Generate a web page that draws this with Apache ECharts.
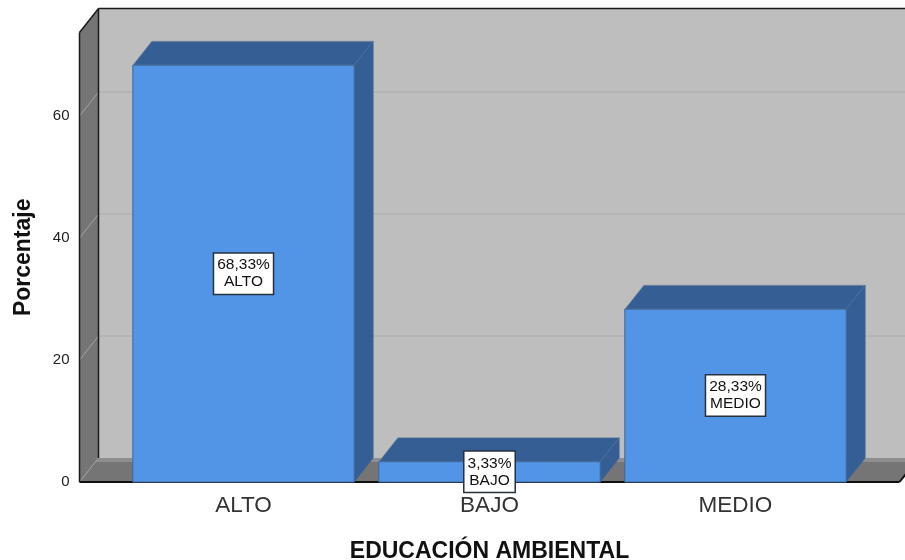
<!DOCTYPE html>
<html><head><meta charset="utf-8">
<style>html,body{margin:0;padding:0;background:#fff}#c{width:905px;height:560px}</style>
<script src="https://cdn.jsdelivr.net/npm/echarts@6/dist/echarts.min.js"></script>
</head><body><div id="c"></div>
<script>
const categories = ['ALTO', 'BAJO', 'MEDIO'];
const percentages = [68.33, 3.33, 28.33];
const percentLabels = ['68,33%', '3,33%', '28,33%'];
const gridTicks = [20, 40, 60];
const yTop = 73.7;
const depthX = 19, depthY = -24, wallOut = 41, barShare = 0.9;
const FONT = '"Liberation Sans", Arial, sans-serif';
const FRONT = '#5294E6', DARK = '#345E94', EDGE = '#3F6797', WALL = '#BEBEBE', SIDE = '#757575', GRID = '#ABABAB';

function poly(points, fill, stroke, lw) {
  return { type: 'polygon', shape: { points }, style: { fill, stroke: stroke || null, lineWidth: lw || 0 } };
}
function seg(x1, y1, x2, y2, stroke, lw) {
  return { type: 'line', shape: { x1, y1, x2, y2 }, style: { stroke, lineWidth: lw } };
}
function renderWalls(params, api) {
  const band = api.size([1, 0])[0];
  const o0 = api.coord([0, 0]), o2 = api.coord([2, 0]);
  const yBase = o0[1], yHigh = api.coord([0, yTop])[1];
  const xL = o0[0] - band / 2 - wallOut, xR = o2[0] + band / 2 + wallOut;
  const bL = xL + depthX, bR = xR + depthX, yb = yBase + depthY, yt = yHigh + depthY;
  const kids = [
    poly([[bL, yt], [bR, yt], [bR, yb], [bL, yb]], WALL),
    poly([[xL, yHigh], [bL, yt], [bL, yb], [xL, yBase]], SIDE),
    poly([[xL, yBase], [bL, yb], [bR, yb], [xR, yBase]], SIDE),
    poly([[bL, yb], [bR, yb], [bR, yb + 4], [bL - 3, yb + 4]], '#8E8E8E')
  ];
  gridTicks.forEach(t => {
    const y = api.coord([0, t])[1];
    kids.push(seg(xL, y, bL, y + depthY, '#A5A5A5', 1));
    kids.push(seg(bL, y + depthY, bR, y + depthY, GRID, 1));
  });
  kids.push(seg(xL, yBase, bL, yb, '#A0A0A0', 1));
  kids.push(seg(bL, yt, bR, yt, '#1A1A1A', 1.5));
  kids.push(seg(bL, yt, bL, yb, '#1A1A1A', 1.5));
  kids.push(seg(xL, yHigh, bL, yt, '#1A1A1A', 1.5));
  kids.push(seg(xL, yHigh, xL, yBase, '#1A1A1A', 1.5));
  kids.push(seg(xL, yBase, xR, yBase, '#111', 2));
  kids.push(seg(xR, yBase, bR, yb, '#111', 2));
  return { type: 'group', children: kids };
}
function renderBar(params, api) {
  const i = api.value(0), v = api.value(1);
  const w = api.size([1, 0])[0] * barShare;
  const c = api.coord([i, v]), b = api.coord([i, 0]), m = api.coord([i, v / 2]);
  const l = c[0] - w / 2, r = c[0] + w / 2, t = c[1], y0 = b[1];
  return { type: 'group', children: [
    poly([[l, t], [l + depthX, t + depthY], [r + depthX, t + depthY], [r, t]], DARK, '#7F8FA3', 0.6),
    poly([[r, t], [r + depthX, t + depthY], [r + depthX, y0 + depthY], [r, y0]], DARK, EDGE, 0.6),
    poly([[l, t], [r, t], [r, y0], [l, y0]], FRONT, EDGE, 1),
    { type: 'text', z2: 10, style: {
        x: c[0], y: m[1], align: 'center', verticalAlign: 'middle',
        text: percentLabels[i] + '\n' + categories[i],
        font: '15.5px ' + FONT, lineHeight: 17, fill: '#111',
        backgroundColor: '#fff', borderColor: '#26313F', borderWidth: 1.5,
        padding: [3, 3, 3, 3]
    } }
  ] };
}
const chart = echarts.init(document.getElementById('c'), null, { renderer: 'canvas' });
chart.setOption({
  animation: false,
  backgroundColor: '#fff',
  grid: { left: 120.5, width: 738, top: 32.5, height: 449.5, outerBoundsMode: 'none', containLabel: false },
  xAxis: {
    type: 'category', data: categories,
    axisLine: { show: false }, axisTick: { show: false },
    axisLabel: { fontFamily: FONT, fontSize: 22.5, color: '#333', margin: 12 },
    name: 'EDUCACIÓN AMBIENTAL', nameLocation: 'middle', nameGap: 58,
    nameTextStyle: { fontFamily: FONT, fontSize: 23, fontWeight: 'bold', color: '#111' }
  },
  yAxis: {
    type: 'value', min: 0, max: yTop, interval: 20, offset: 41,
    axisLine: { show: false }, axisTick: { show: false }, splitLine: { show: false },
    axisLabel: { showMaxLabel: false, fontFamily: FONT, fontSize: 15, color: '#222', margin: 10, padding: [6, 0, 0, 0] },
    name: 'Porcentaje', nameLocation: 'middle', nameGap: 44,
    nameTextStyle: { fontFamily: FONT, fontSize: 23, fontWeight: 'bold', color: '#111' }
  },
  series: [
    { type: 'custom', renderItem: renderWalls, data: [[0, 0]], silent: true, z: 1 },
    { type: 'custom', renderItem: renderBar, data: percentages.map((v, i) => [i, v]), silent: true, z: 2 }
  ]
});
</script></body></html>
